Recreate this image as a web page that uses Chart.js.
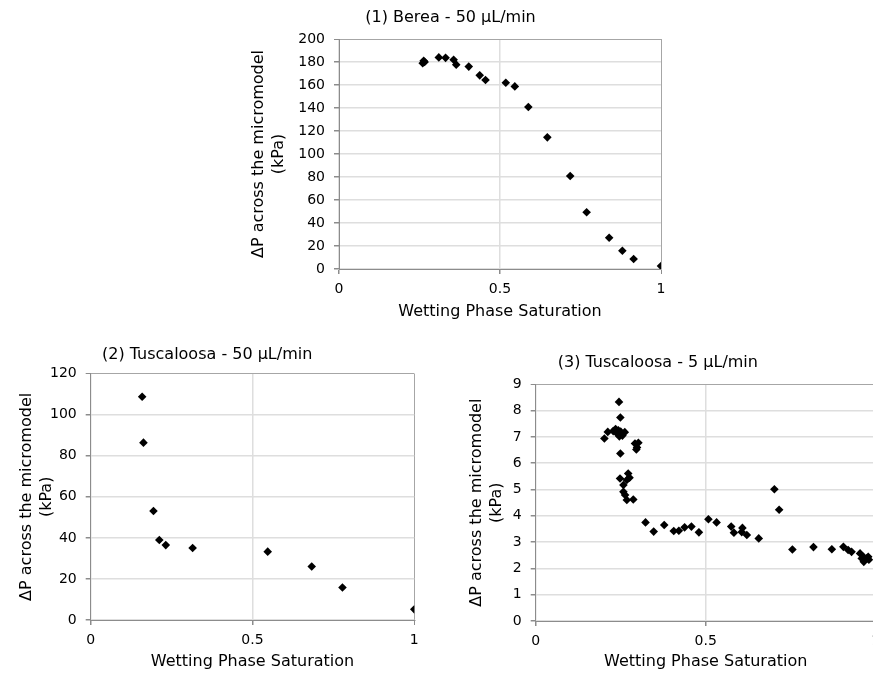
<!DOCTYPE html>
<html>
<head>
<meta charset="utf-8">
<script src="https://cdn.jsdelivr.net/npm/chart.js@4/dist/chart.umd.min.js"></script>
<style>
  html, body { margin: 0; padding: 0; background: #ffffff; }
  body { width: 873px; height: 675px; overflow: hidden; position: relative; }
  canvas { position: absolute; }
</style>
</head>
<body>
<canvas id="c1" width="476" height="330" style="left:240px;top:0px;"></canvas>
<canvas id="c2" width="439" height="345" style="left:0px;top:330px;"></canvas>
<canvas id="c3" width="472" height="345" style="left:440px;top:330px;"></canvas>
<script>
// ---- Data ----
const titles = ['(1) Berea - 50 μL/min', '(2) Tuscaloosa - 50 μL/min', '(3) Tuscaloosa - 5 μL/min'];
const xAxisTitle = 'Wetting Phase Saturation';
const yAxisTitle = ['ΔP across the micromodel', '(kPa)'];
const xTickLabels = ['0', '0.5', '1'];

const bereaSat = [0.260, 0.263, 0.266, 0.310, 0.331, 0.356, 0.364, 0.403, 0.437, 0.455, 0.518, 0.546, 0.588, 0.647, 0.718, 0.769, 0.839, 0.880, 0.915, 1.000];
const bereaDP  = [179, 181, 180, 184, 183.6, 182, 177.7, 176, 168.4, 164.3, 162, 158.8, 140.9, 114.5, 80.9, 49.3, 27.2, 15.9, 8.7, 2.6];

const tusc50Sat = [0.159, 0.163, 0.194, 0.212, 0.232, 0.315, 0.547, 0.683, 0.778, 1.000];
const tusc50DP  = [108.8, 86.4, 53.1, 39.0, 36.5, 35.1, 33.3, 26.1, 15.8, 5.2];

const tusc5Sat = [0.202, 0.212, 0.228, 0.235, 0.240, 0.243, 0.246, 0.250, 0.255, 0.262, 0.245, 0.249, 0.249,
                  0.292, 0.298, 0.302, 0.296,
                  0.272, 0.276, 0.248, 0.268, 0.258, 0.258, 0.263, 0.268, 0.287,
                  0.323, 0.347, 0.378, 0.406, 0.421, 0.438, 0.458, 0.480, 0.508, 0.532, 0.575, 0.583, 0.606, 0.608, 0.621, 0.656,
                  0.702, 0.716, 0.755, 0.817, 0.871, 0.905, 0.919, 0.929, 0.954, 0.959, 0.964, 0.969, 0.974, 0.978, 0.965, 0.980];
const tusc5DP  = [6.94, 7.19, 7.22, 7.30, 7.12, 7.25, 7.02, 7.20, 7.05, 7.18, 8.33, 7.74, 6.37,
                  6.75, 6.60, 6.78, 6.52,
                  5.61, 5.45, 5.42, 5.36, 5.17, 4.91, 4.79, 4.60, 4.62,
                  3.75, 3.40, 3.65, 3.42, 3.43, 3.56, 3.59, 3.37, 3.87, 3.75, 3.59, 3.36, 3.38, 3.54, 3.27, 3.14,
                  5.01, 4.23, 2.72, 2.81, 2.73, 2.82, 2.70, 2.63, 2.57, 2.38, 2.44, 2.32, 2.38, 2.44, 2.25, 2.33];

const yMax = [200, 120, 9];
const yStep = [20, 20, 1];

// ---- Rendering ----
const FONT = 'DejaVu Sans';
function pts(xs, ys) { return xs.map((x, i) => ({x: x, y: ys[i]})); }

function makeChart(id, idx, xs, ys, L) {
  const n = Math.round(yMax[idx] / yStep[idx]);
  return new Chart(document.getElementById(id), {
    type: 'scatter',
    data: { datasets: [{
      data: pts(xs, ys),
      pointStyle: 'rectRot',
      pointRadius: 4.3,
      pointHoverRadius: 4.3,
      backgroundColor: '#000000',
      borderColor: '#000000',
      borderWidth: 0
    }]},
    options: {
      responsive: false,
      animation: false,
      events: [],
      layout: { padding: { left: 0, right: L.padRight, top: 0, bottom: 0 } },
      plugins: {
        legend: { display: false },
        tooltip: { enabled: false },
        title: {
          display: true,
          text: titles[idx],
          color: '#000000',
          font: { family: FONT, size: 16, weight: 'normal', lineHeight: 1.2 },
          padding: { top: L.titleTop, bottom: L.titleBottom }
        }
      },
      scales: {
        x: {
          type: 'linear', min: 0, max: 1,
          afterFit: s => { s.height = L.xH; },
          ticks: { stepSize: 0.5, color: '#000000', padding: 7,
                   font: { family: FONT, size: 14 },
                   callback: v => xTickLabels[Math.round(v * 2)] },
          grid: { color: c => (c.index === 2 ? '#a6a6a6' : '#dedede'),
                  lineWidth: c => (c.index === 2 ? 1 : 1.5),
                  tickColor: '#8c8c8c', tickLength: 5 },
          border: { display: true, color: '#8c8c8c', width: 1 },
          title: { display: true, text: xAxisTitle, color: '#000000',
                   font: { family: FONT, size: 16, lineHeight: 1.2 },
                   padding: { top: 0, bottom: L.xTitleBottom } }
        },
        y: {
          type: 'linear', min: 0, max: yMax[idx],
          afterFit: s => { s.width = L.yW; },
          ticks: { stepSize: yStep[idx], color: '#000000', padding: 9,
                   font: { family: FONT, size: 14 } },
          grid: { color: c => (c.index === n ? '#a6a6a6' : '#dedede'),
                  lineWidth: c => (c.index === n ? 1 : 1.5),
                  tickColor: '#8c8c8c', tickLength: 5 },
          border: { display: true, color: '#8c8c8c', width: 1 },
          title: { display: true, text: yAxisTitle, color: '#000000',
                   font: { family: FONT, size: 16, lineHeight: 1.25 },
                   padding: { top: L.yTitleTop, bottom: 0 } }
        }
      }
    }
  });
}

makeChart('c1', 0, bereaSat, bereaDP,
  { padRight: 55, titleTop: 8.4, titleBottom: 11.4, xH: 61, xTitleBottom: 8.4, yW: 99, yTitleTop: 9 });
makeChart('c2', 1, tusc50Sat, tusc50DP,
  { padRight: 24.7, titleTop: 15, titleBottom: 9.5, xH: 55, xTitleBottom: 3.7, yW: 90.7, yTitleTop: 17 });
makeChart('c3', 2, tusc5Sat, tusc5DP,
  { padRight: 36.3, titleTop: 23.2, titleBottom: 11.9, xH: 54, xTitleBottom: 3.7, yW: 95.7, yTitleTop: 27 });
</script>
</body>
</html>
